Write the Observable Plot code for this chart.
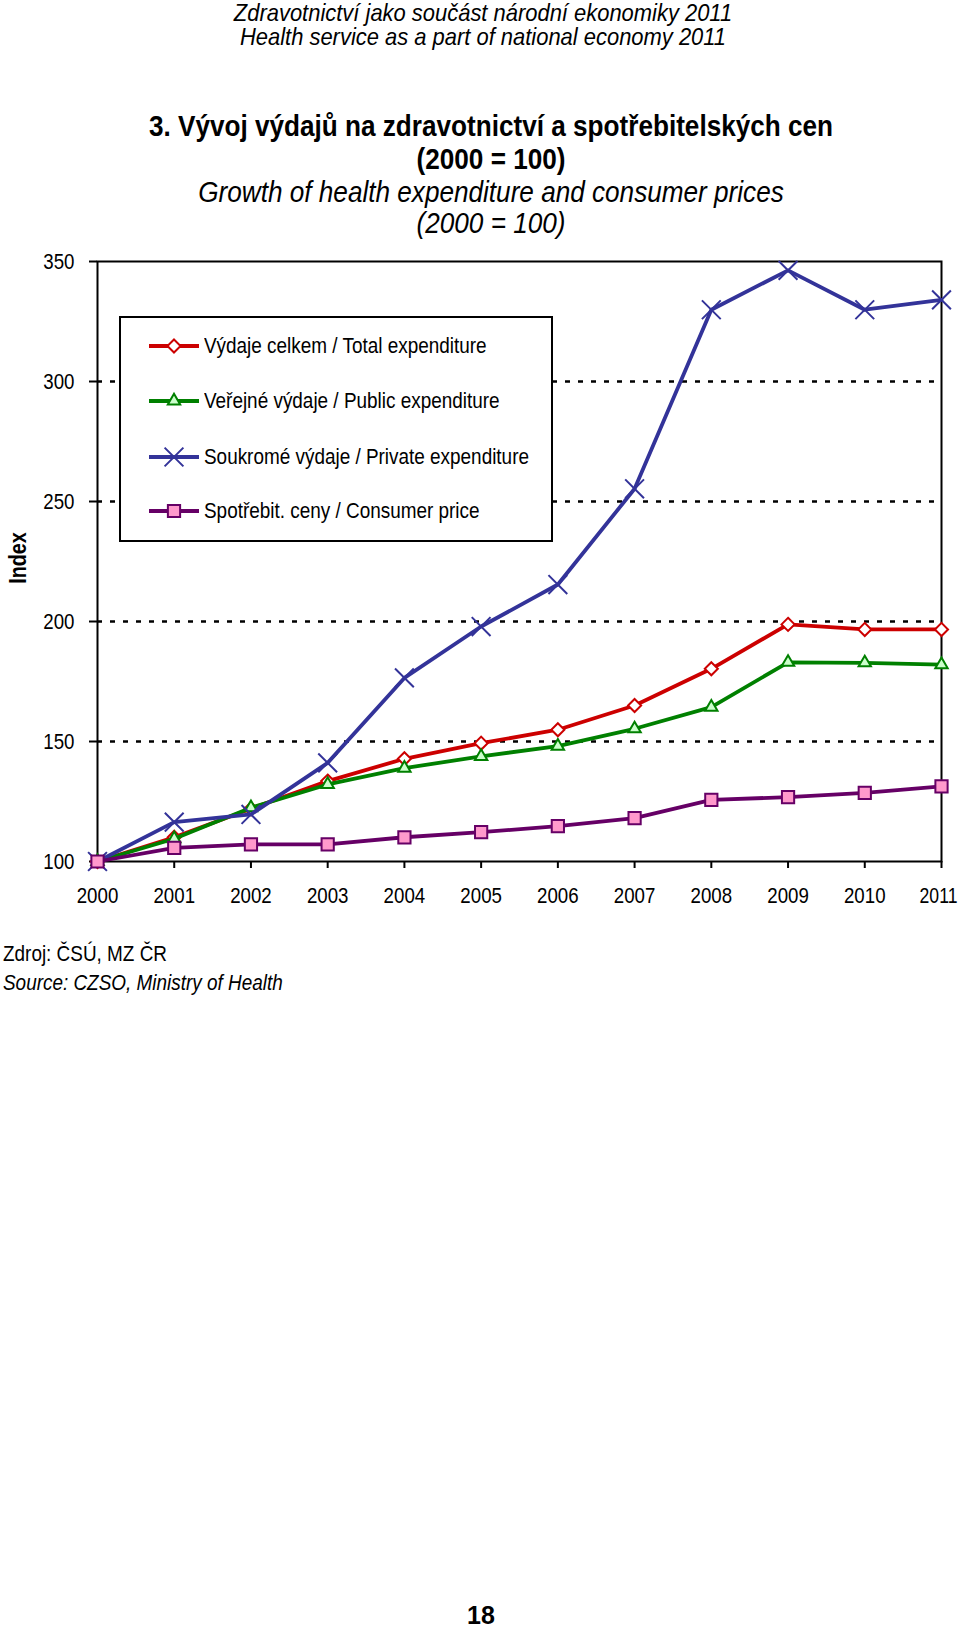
<!DOCTYPE html>
<html>
<head>
<meta charset="utf-8">
<script src="https://cdn.jsdelivr.net/npm/d3@7"></script>
<script src="https://cdn.jsdelivr.net/npm/@observablehq/plot@0.6"></script>
<style>
  html, body { margin: 0; padding: 0; background: #fff; }
  #page { position: relative; width: 960px; height: 1629px; overflow: hidden; background: #fff;
          font-family: "Liberation Sans Narrow", "Arial Narrow", "Liberation Sans", Arial, sans-serif; color: #000; }
  .t { position: absolute; white-space: nowrap; line-height: 1; }
  .c { transform: translate(-50%, -50%) scaleX(0.86); }
  .h { transform: translate(-50%, -50%) scaleX(0.914); }
  .l { transform: translate(0, -50%) scaleX(0.86); transform-origin: left center; }
  #chart { position: absolute; left: 0; top: 240px; }
  #legend { position: absolute; left: 119px; top: 316px; width: 434px; height: 226px; box-sizing: border-box;
            border: 2px solid #000; background: #fff; }
  .lrow { position: absolute; left: 0; height: 24px; display: flex; align-items: center; transform: translateY(-50%); white-space: nowrap; }
  .lrow svg { margin-left: 26px; flex: none; }
  .lrow span { display: inline-block; font-size: 22px; margin-left: 3px; transform: scaleX(0.86); transform-origin: left center; }
</style>
</head>
<body>
<div id="page">
  <div class="t h" style="left:483px; top:13px; font-size:24px; font-style:italic;">Zdravotnictví jako součást národní ekonomiky 2011</div>
  <div class="t h" style="left:483px; top:37px; font-size:24px; font-style:italic;">Health service as a part of national economy 2011</div>
  <div class="t c" style="left:491px; top:125px; font-size:30.4px; font-weight:bold;">3. Vývoj výdajů na zdravotnictví a spotřebitelských cen</div>
  <div class="t c" style="left:491px; top:158px; font-size:30.4px; font-weight:bold;">(2000 = 100)</div>
  <div class="t c" style="left:491px; top:191px; font-size:30.4px; font-style:italic;">Growth of health expenditure and consumer prices</div>
  <div class="t c" style="left:491px; top:222px; font-size:30.4px; font-style:italic;">(2000 = 100)</div>
  <div class="t" style="left:18px; top:558px; font-size:23px; font-weight:bold; transform: translate(-50%, -50%) rotate(-90deg) scaleX(0.86);">Index</div>
  <div id="chart"></div>
  <div id="legend"></div>
  <div class="t l" style="left:3px; top:954px; font-size:22px;">Zdroj: ČSÚ, MZ ČR</div>
  <div class="t l" style="left:3px; top:983px; font-size:22px; font-style:italic;">Source: CZSO, Ministry of Health</div>
  <div class="t" style="left:481px; top:1615px; font-size:25px; font-weight:bold; transform: translate(-50%, -50%); font-family:'Liberation Sans', Arial, sans-serif;">18</div>
</div>
<script>
// ---- data ----
const years = [2000, 2001, 2002, 2003, 2004, 2005, 2006, 2007, 2008, 2009, 2010, 2011];
const totalExp   = [100, 110.1, 122.0, 133.5, 142.8, 149.3, 154.9, 165.0, 180.3, 198.8, 196.7, 196.7];
const publicExp  = [100, 109.5, 122.4, 132.1, 138.9, 143.8, 148.1, 155.3, 164.3, 183.0, 182.8, 182.0];
const privateExp = [100, 116.4, 119.6, 141.1, 176.5, 197.9, 215.4, 255.3, 329.9, 346.3, 329.9, 334.0];
const consumerPrices = [100, 105.7, 107.1, 107.1, 110.1, 112.2, 114.7, 118.1, 125.7, 126.8, 128.6, 131.3];

const seriesNames = [
  "Výdaje celkem / Total expenditure",
  "Veřejné výdaje / Public expenditure",
  "Soukromé výdaje / Private expenditure",
  "Spotřebit. ceny / Consumer price"
];
const seriesValues = [totalExp, publicExp, privateExp, consumerPrices];
const yTicks = [100, 150, 200, 250, 300, 350];
const gridValues = [150, 200, 250, 300];

// ---- styles ----
const lineColors = ["#cc0000", "#008000", "#333399", "#660066"];
const markerFills = ["#ffffff", "#ccffcc", "none", "#ff99cc"];
const markerSymbols = ["diamond2", "triangle2", "times", "square"];
const markerR = [5.9, 5.9, 8.6, 6.9];
const markerStroke = [2, 2, 2, 2];
const FONT = '"Liberation Sans Narrow", "Arial Narrow", "Liberation Sans", Arial, sans-serif';

const rows = [];
seriesNames.forEach((name, i) => {
  years.forEach((yr, j) => rows.push({series: name, idx: i, year: yr, value: seriesValues[i][j]}));
});

const seriesMarks = [];
seriesNames.forEach((name, i) => {
  const d = rows.filter(r => r.idx === i);
  seriesMarks.push(Plot.line(d, {x: "year", y: "value", stroke: lineColors[i], strokeWidth: 3.8, strokeLinejoin: "round"}));
  seriesMarks.push(Plot.dot(d, {x: "year", y: "value", symbol: markerSymbols[i], r: markerR[i],
    fill: markerFills[i], stroke: lineColors[i], strokeWidth: markerStroke[i]}));
});

const chart = Plot.plot({
  width: 960,
  height: 680,
  marginLeft: 97,
  marginRight: 19,
  marginTop: 21,
  marginBottom: 59,
  x: {domain: [2000, 2011]},
  y: {domain: [100, 350]},
  style: {fontFamily: FONT, fontSize: "22px", color: "#000", background: "none", overflow: "visible"},
  marks: [
    Plot.ruleY(gridValues, {stroke: "#000", strokeWidth: 2.6, strokeDasharray: "5,8"}),
    Plot.frame({stroke: "#000", strokeWidth: 2}),
    Plot.axisX({ticks: years, tickFormat: d3.format("d"), tickSize: 7, tickPadding: 19, strokeWidth: 2, label: null, fontSize: 22}),
    Plot.axisY({ticks: yTicks, tickSize: 8, tickPadding: 15, strokeWidth: 2, label: null, fontSize: 22}),
    ...seriesMarks
  ]
});
document.getElementById("chart").appendChild(chart);

// emulate the narrow typeface of the original on the axis tick labels
const xLabels = chart.querySelectorAll('g[aria-label="x-axis tick label"] text');
chart.querySelectorAll('g[aria-label="x-axis tick label"] text, g[aria-label="y-axis tick label"] text').forEach(t => {
  const w = t.getComputedTextLength();
  const last = t === xLabels[xLabels.length - 1];
  t.setAttribute("textLength", (w * (last ? 0.8 : 0.85)).toFixed(2));
  t.setAttribute("lengthAdjust", "spacingAndGlyphs");
  if (last) t.setAttribute("dx", "-3");
});

// ---- legend ----
const legend = document.getElementById("legend");
const rowTops = [28, 83, 139, 193];
const symMap = {diamond2: d3.symbolDiamond2, triangle2: d3.symbolTriangle2, times: d3.symbolTimes, square: d3.symbolSquare};
seriesNames.forEach((name, i) => {
  const row = document.createElement("div");
  row.className = "lrow";
  row.style.top = rowTops[i] + "px";
  const svg = d3.create("svg").attr("width", 54).attr("height", 24);
  svg.append("line").attr("x1", 2).attr("x2", 52).attr("y1", 12).attr("y2", 12)
     .attr("stroke", lineColors[i]).attr("stroke-width", 3.8);
  const size = Math.PI * markerR[i] * markerR[i];
  svg.append("path").attr("transform", "translate(27,12)")
     .attr("d", d3.symbol(symMap[markerSymbols[i]], size)())
     .attr("fill", markerFills[i]).attr("stroke", lineColors[i]).attr("stroke-width", markerStroke[i]);
  row.appendChild(svg.node());
  const span = document.createElement("span");
  span.textContent = name;
  row.appendChild(span);
  legend.appendChild(row);
});
</script>
</body>
</html>
